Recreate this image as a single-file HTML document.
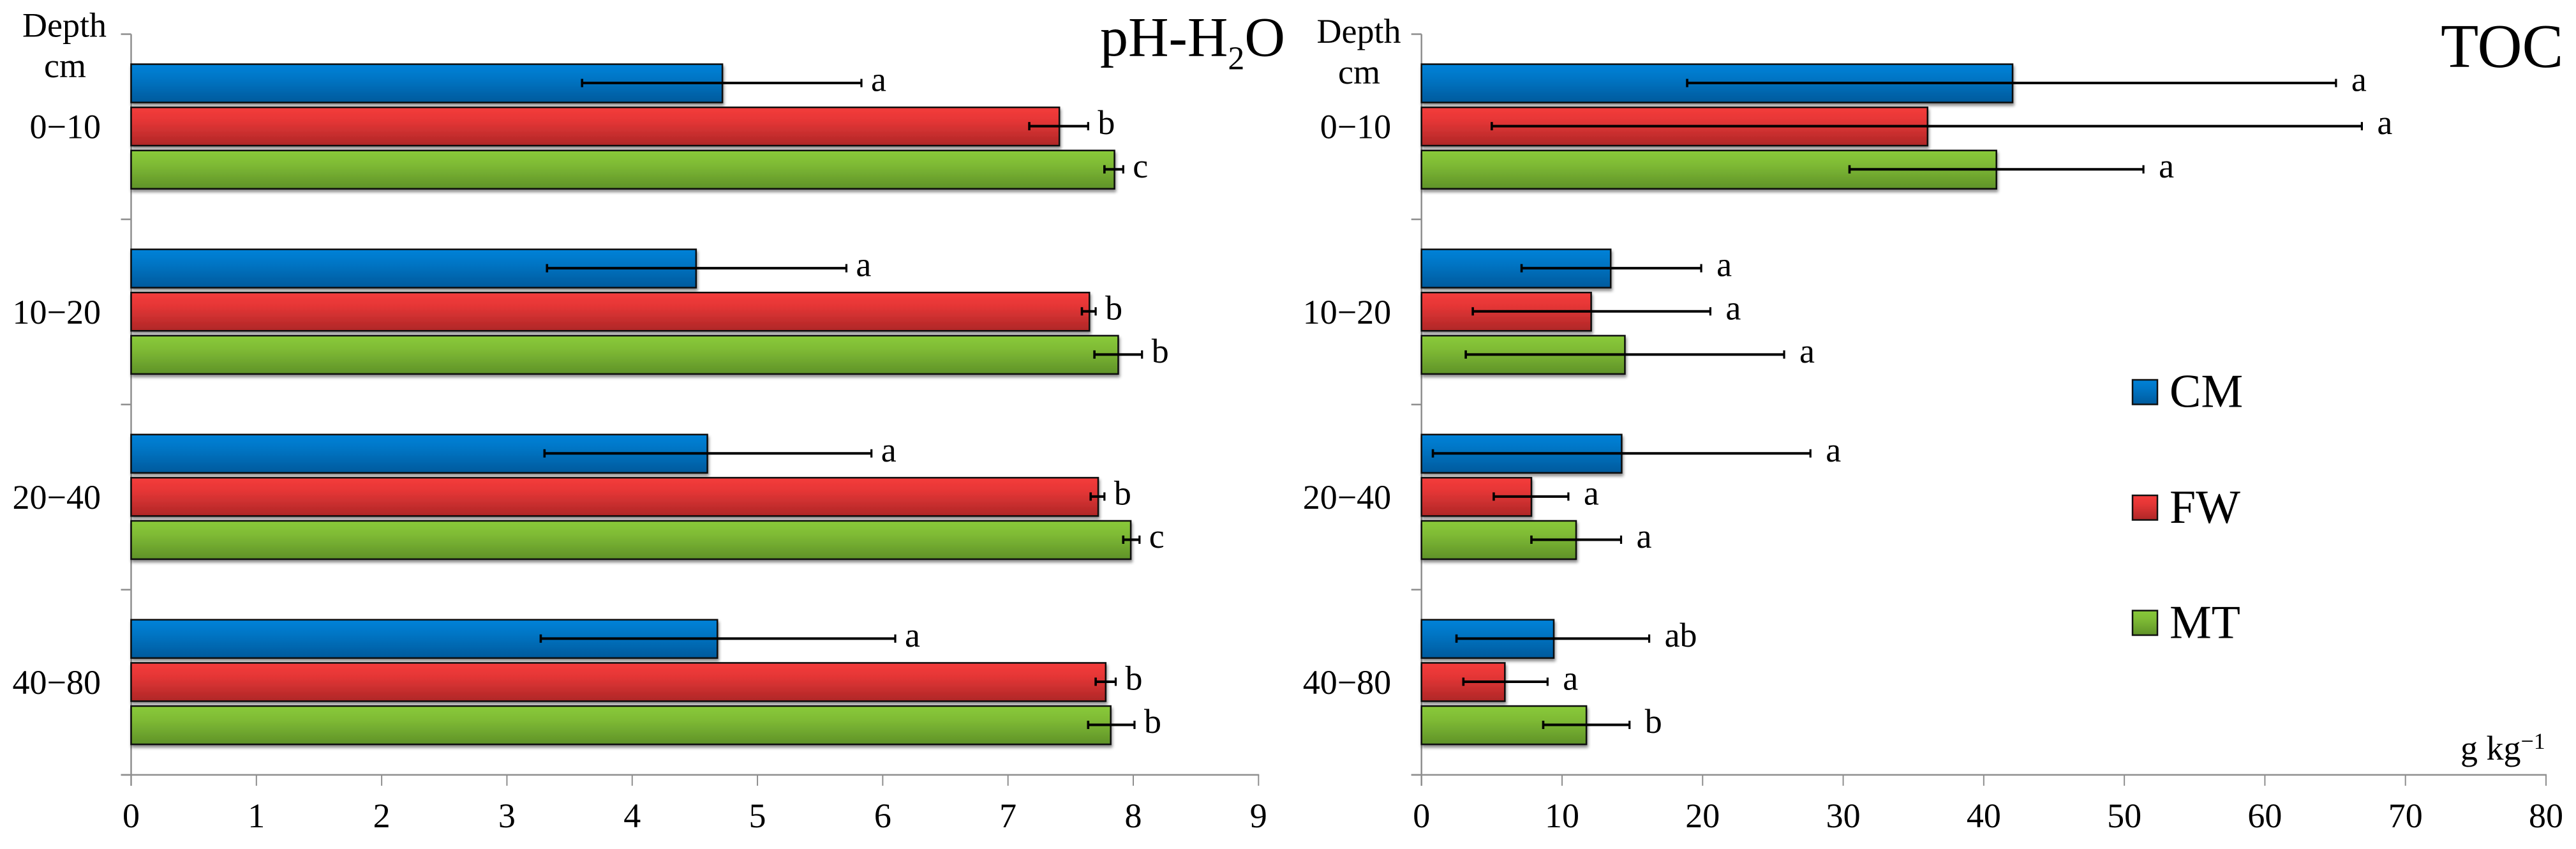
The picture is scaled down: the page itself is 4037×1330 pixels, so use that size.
<!DOCTYPE html>
<html lang="en">
<head>
<meta charset="utf-8">
<title>pH-H2O and TOC by depth</title>
<style>
html,body{margin:0;padding:0;background:#fff;width:4037px;height:1330px;overflow:hidden}
svg{display:block}
text{font-family:"Liberation Serif",serif;fill:#000}
</style>
</head>
<body>
<svg id="chart" xmlns="http://www.w3.org/2000/svg" width="4037" height="1330" viewBox="0 0 4037 1330">
  <defs>
    <linearGradient id="grad-cm" x1="0" y1="0" x2="0" y2="1"><stop offset="0" stop-color="#0082d8"/><stop offset="0.35" stop-color="#0076c6"/><stop offset="1" stop-color="#005a9c"/></linearGradient>
    <linearGradient id="grad-fw" x1="0" y1="0" x2="0" y2="1"><stop offset="0" stop-color="#f43c3b"/><stop offset="0.35" stop-color="#e53636"/><stop offset="1" stop-color="#ae2727"/></linearGradient>
    <linearGradient id="grad-mt" x1="0" y1="0" x2="0" y2="1"><stop offset="0" stop-color="#89ca3a"/><stop offset="0.35" stop-color="#7fbb35"/><stop offset="1" stop-color="#5f9228"/></linearGradient>
    <filter id="bar-shadow" x="-5%" y="-15%" width="110%" height="150%"><feDropShadow dx="1.5" dy="4" stdDeviation="2.5" flood-color="#000" flood-opacity="0.45"/></filter>
  </defs>

  <text x="101" y="57.500" font-size="54" text-anchor="middle">Depth</text>
  <text x="102" y="121" font-size="54" text-anchor="middle">cm</text>
  <text x="2129.5" y="67" font-size="54" text-anchor="middle">Depth</text>
  <text x="2130" y="131" font-size="54" text-anchor="middle">cm</text>

  <text x="1724" y="87.5" font-size="88">pH-H<tspan font-size="52" dy="21">2</tspan><tspan dy="-21">O</tspan></text>
  <text x="3825" y="105" font-size="97">TOC</text>
  <text x="3856" y="1190" font-size="54">g kg<tspan font-size="36" dy="-17">−1</tspan></text>

  <g>
    <g>
      <rect x="3342" y="595" width="39" height="38.500" fill="url(#grad-cm)" stroke="#111" stroke-width="2.500"/>
      <text x="3400" y="637.500" font-size="74">CM</text>
    </g>
    <g>
      <rect x="3342" y="776" width="39" height="38.500" fill="url(#grad-fw)" stroke="#111" stroke-width="2.500"/>
      <text x="3400" y="819" font-size="74">FW</text>
    </g>
    <g>
      <rect x="3342" y="956.500" width="39" height="38.500" fill="url(#grad-mt)" stroke="#111" stroke-width="2.500"/>
      <text x="3400" y="999.500" font-size="74">MT</text>
    </g>
  </g>
</svg>
<script>
// ---- shared data ----
const depthLabels = ['0−10', '10−20', '20−40', '40−80'];
const seriesNames = ['CM', 'FW', 'MT'];

// ---- pH-H2O panel: one row per depth, columns CM, FW, MT ----
const phTicks = [0, 1, 2, 3, 4, 5, 6, 7, 8, 9];
const phMeans = [[4.72, 7.41, 7.85], [4.51, 7.65, 7.88], [4.60, 7.72, 7.98], [4.68, 7.78, 7.82]];
const phErrLow = [[3.60, 7.17, 7.77], [3.32, 7.59, 7.69], [3.30, 7.66, 7.92], [3.27, 7.70, 7.64]];
const phErrHigh = [[5.83, 7.64, 7.92], [5.71, 7.70, 8.07], [5.91, 7.77, 8.05], [6.10, 7.86, 8.01]];
const phLetters = [['a', 'b', 'c'], ['a', 'b', 'b'], ['a', 'b', 'c'], ['a', 'b', 'b']];

// ---- TOC panel ----
const tocTicks = [0, 10, 20, 30, 40, 50, 60, 70, 80];
const tocMeans = [[42.05, 36.0, 40.9], [13.46, 12.07, 14.47], [14.24, 7.82, 11.0], [9.41, 5.93, 11.73]];
const tocErrLow = [[18.9, 5.0, 30.45], [7.12, 3.65, 3.15], [0.81, 5.14, 7.82], [2.49, 2.98, 8.66]];
const tocErrHigh = [[65.06, 66.9, 51.36], [19.9, 20.55, 25.8], [27.67, 10.45, 14.2], [16.2, 8.97, 14.8]];
const tocLetters = [['a', 'a', 'a'], ['a', 'a', 'a'], ['a', 'a', 'a'], ['ab', 'a', 'b']];

const svg = document.getElementById('chart');
const NS = 'http://www.w3.org/2000/svg';
const AXIS_COLOR = '#8e8e8e';
const PLOT_TOP = 53.5;
const BAND = 290.1;
const BAR_PITCH = 67.6;
const BAR_H = 60;

function make(tag, props, parent) {
  const el = document.createElementNS(NS, tag);
  Object.keys(props).forEach(function (k) { el.setAttribute(k, props[k]); });
  parent.appendChild(el);
  return el;
}

function bandCenter(i) {
  return PLOT_TOP + BAND * (i + 0.5) - 0.4;
}

function barCenter(i, s) {
  return bandCenter(i) + (s - 1) * BAR_PITCH;
}

function drawPanel(cfg) {
  const x = function (v) {
    return cfg.left + (v - cfg.ticks[0]) / (cfg.ticks[cfg.ticks.length - 1] - cfg.ticks[0]) * cfg.width;
  };
  const bottom = PLOT_TOP + BAND * depthLabels.length;

  const panel = make('g', {}, svg);
  
  

  const yAxis = make('line', { x1: cfg.left, x2: cfg.left, y1: PLOT_TOP, y2: bottom + 17, stroke: AXIS_COLOR, 'stroke-width': 2.5 }, panel);
  
  

  const xAxis = make('line', { x1: cfg.left - 16, x2: x(cfg.ticks[cfg.ticks.length - 1]) + 1, y1: bottom, y2: bottom, stroke: AXIS_COLOR, 'stroke-width': 2.5 }, panel);
  
  

  for (let i = 0; i <= depthLabels.length; i++) {
    const yTick = make('line', { x1: cfg.left - 16, x2: cfg.left, y1: PLOT_TOP + BAND * i, y2: PLOT_TOP + BAND * i, stroke: AXIS_COLOR, 'stroke-width': 2.5 }, panel);
    
    
  }

  cfg.ticks.forEach(function (t) {
    const xTick = make('line', { x1: x(t), x2: x(t), y1: bottom, y2: bottom + 17, stroke: AXIS_COLOR, 'stroke-width': 2 }, panel);
    
    
    const xLabel = make('text', { x: x(t), y: 1296, 'font-size': 54, 'text-anchor': 'middle' }, panel);
    xLabel.textContent = String(t);
    
    
  });

  depthLabels.forEach(function (label, i) {
    const depth = make('text', { x: cfg.left - 47.5, y: bandCenter(i) + 18.5, 'font-size': 54, 'text-anchor': 'end' }, panel);
    depth.textContent = label;
    
    
  });

  // bars
  cfg.means.forEach(function (row, i) {
    row.forEach(function (v, s) {
      const bar = make('rect', {
        x: x(0),
        y: barCenter(i, s) - BAR_H / 2,
        width: x(v) - x(0),
        height: BAR_H,
        fill: 'url(#grad-' + seriesNames[s].toLowerCase() + ')',
        stroke: '#0a0a0a',
        'stroke-width': 2.5,
        filter: 'url(#bar-shadow)'
      }, panel);
      
      
    });
  });

  // error bars and significance letters
  cfg.means.forEach(function (row, i) {
    row.forEach(function (v, s) {
      const cy = barCenter(i, s) - 0.5;
      const lo = x(cfg.low[i][s]);
      const hi = x(cfg.high[i][s]);
      const err = make('g', { stroke: '#000' }, panel);
      
      
      make('line', { x1: lo, x2: hi, y1: cy, y2: cy, 'stroke-width': 4 }, err);
      make('line', { x1: lo, x2: lo, y1: cy - 6.5, y2: cy + 6.5, 'stroke-width': 3.6 }, err);
      make('line', { x1: hi, x2: hi, y1: cy - 6.5, y2: cy + 6.5, 'stroke-width': 3.2 }, err);

      const letter = make('text', { x: hi + cfg.letterGap, y: cy + 12.5, 'font-size': 54 }, panel);
      letter.textContent = cfg.letters[i][s];
      
      
    });
  });
}

drawPanel({ name: 'ph', left: 205.5, width: 1766.8, ticks: phTicks, means: phMeans, low: phErrLow, high: phErrHigh, letters: phLetters, letterGap: 15 });
drawPanel({ name: 'toc', left: 2227.7, width: 1762.3, ticks: tocTicks, means: tocMeans, low: tocErrLow, high: tocErrHigh, letters: tocLetters, letterGap: 24 });
</script>
</body>
</html>
